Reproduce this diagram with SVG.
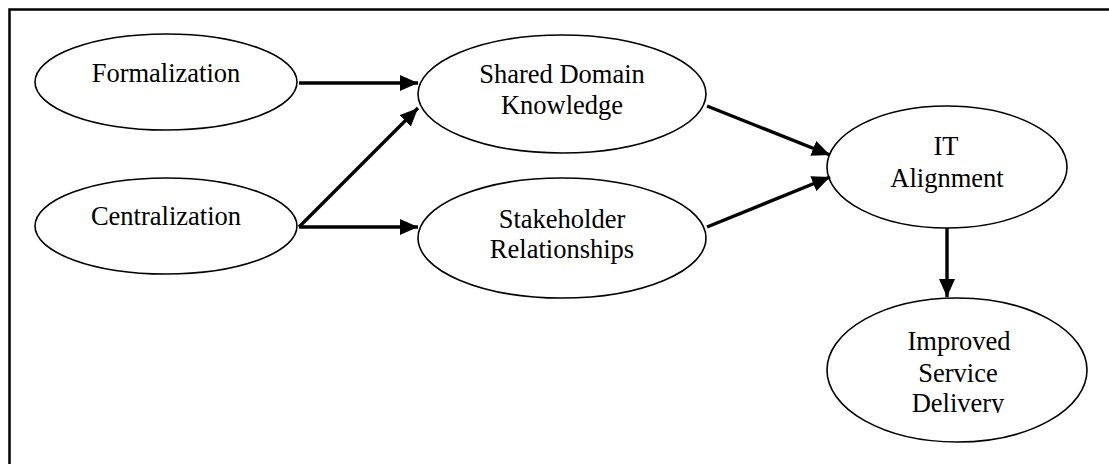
<svg xmlns="http://www.w3.org/2000/svg" width="1109" height="464" viewBox="0 0 1109 464">
<style>
.node ellipse{fill:#fff;stroke:#000;stroke-width:1.6}
.node text{font-family:"Liberation Serif","Times New Roman",serif;font-size:26.5px;fill:#000;text-anchor:middle}
.edge{stroke:#000;stroke-width:3.4;fill:none;marker-end:url(#ah)}
</style>
<defs>
<marker id="ah" markerUnits="userSpaceOnUse" markerWidth="19" markerHeight="17" refX="18" refY="8" orient="auto">
<path d="M0,0 L18,8 L0,16 z" fill="#000"/>
</marker>
<clipPath id="clipD"><rect x="800" y="380" width="300" height="33"/></clipPath>
</defs>
<rect x="0" y="0" width="1109" height="464" fill="#fff"/>
<rect x="9.5" y="9.5" width="1200" height="600" fill="none" stroke="#000" stroke-width="2.5"/>
<g id="formalization" class="node">
<ellipse cx="166" cy="82" rx="131" ry="48"/>
<text x="166" y="82">Formalization</text>
</g>
<g id="centralization" class="node">
<ellipse cx="166" cy="226" rx="131" ry="48"/>
<text x="166" y="225">Centralization</text>
</g>
<g id="shared-domain-knowledge" class="node">
<ellipse cx="562" cy="94" rx="144" ry="59"/>
<text x="562" y="83">Shared Domain</text>
<text x="562" y="114">Knowledge</text>
</g>
<g id="stakeholder-relationships" class="node">
<ellipse cx="562" cy="238" rx="144" ry="60"/>
<text x="562" y="228">Stakeholder</text>
<text x="562" y="258">Relationships</text>
</g>
<g id="it-alignment" class="node">
<ellipse cx="947" cy="167" rx="120" ry="61"/>
<text x="946" y="155">IT</text>
<text x="947" y="187">Alignment</text>
</g>
<g id="improved-service-delivery" class="node">
<ellipse cx="957" cy="370" rx="130" ry="72"/>
<text x="959" y="350">Improved</text>
<text x="958" y="382">Service</text>
<text x="958" y="412" clip-path="url(#clipD)">Delivery</text>
</g>
<g id="connectors">
<line class="edge" x1="299" y1="83" x2="418" y2="83"/>
<line class="edge" x1="299" y1="227" x2="418" y2="108"/>
<line class="edge" x1="299" y1="227" x2="418" y2="227"/>
<line class="edge" x1="707" y1="106" x2="830" y2="155"/>
<line class="edge" x1="707" y1="227" x2="830" y2="177"/>
<line class="edge" x1="947" y1="228" x2="947" y2="297"/>
</g>
</svg>
